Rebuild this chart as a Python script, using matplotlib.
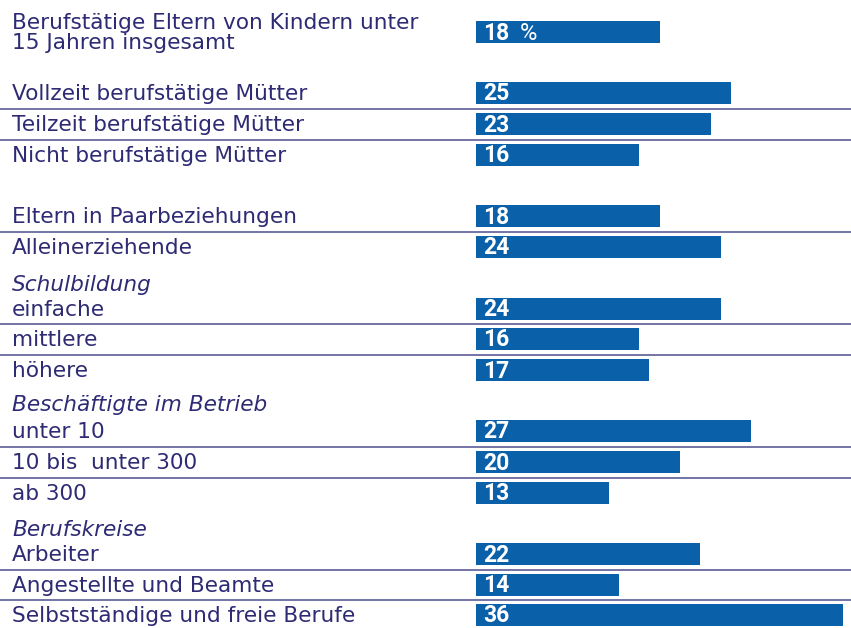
import matplotlib.pyplot as plt
from matplotlib.transforms import blended_transform_factory, offset_copy

# --- data -----------------------------------------------------------------
labels = [
    "Berufstätige Eltern von Kindern unter\n15 Jahren insgesamt",
    "Vollzeit berufstätige Mütter",
    "Teilzeit berufstätige Mütter",
    "Nicht berufstätige Mütter",
    "Eltern in Paarbeziehungen",
    "Alleinerziehende",
    "einfache",
    "mittlere",
    "höhere",
    "unter 10",
    "10 bis  unter 300",
    "ab 300",
    "Arbeiter",
    "Angestellte und Beamte",
    "Selbstständige und freie Berufe",
]
values = [18, 25, 23, 16, 18, 24, 24, 16, 17, 27, 20, 13, 22, 14, 36]
group_of = [0, 1, 1, 1, 2, 2, 3, 3, 3, 4, 4, 4, 5, 5, 5]
headers = {3: "Schulbildung", 4: "Beschäftigte im Betrieb", 5: "Berufskreise"}

# --- layout (pixel rows, figure is 851 x 628) ----------------------------
row_y = [32, 93, 124, 155, 216, 247, 309, 339, 370, 431, 462, 493, 554, 585, 615]
header_y = {3: 285, 4: 405, 5: 530}
BAR_X0 = 476      # pixel where bars start
PX_PER_UNIT = 10.2
W, H = 851, 628

TEXT = "#2e2b74"
BAR = "#0b60aa"
RULE = "#5c5c96"

fig = plt.figure(figsize=(W / 100, H / 100), dpi=100)
ax = fig.add_axes([0, 0, 1, 1])
ax.set_xlim(-BAR_X0 / PX_PER_UNIT, (W - BAR_X0) / PX_PER_UNIT)
ax.set_ylim(H, 0)
ax.axis("off")

tr = blended_transform_factory(ax.transAxes, ax.transData)
lab_font = dict(family=["DejaVu Sans"], fontsize=15.6, color=TEXT)
num_font = dict(family=["Roboto", "DejaVu Sans"], fontweight="bold",
                fontsize=16.5, color="white")

ax.barh(row_y, values, height=22, left=0, color=BAR)

for i, (y, lab, v) in enumerate(zip(row_y, labels, values)):
    ax.text(12 / W, y + 1, lab, transform=tr, ha="left", va="center",
            linespacing=0.95, **lab_font)
    ax.text(0.7, y + 1, str(v), ha="left", va="center", **num_font)
    if i == 0:
        # light percent sign after the first value
        ax.text(0.7, y + 1, "%", ha="left", va="center", color="white",
                family=["Roboto", "DejaVu Sans"], fontsize=17,
                transform=offset_copy(ax.transData, fig=fig, x=37, y=0,
                                      units="dots"))

for g, h in headers.items():
    ax.text(12 / W, header_y[g], h, transform=tr, ha="left", va="center",
            style="italic", **lab_font)

# thin rules between rows of the same group
for i in range(len(row_y) - 1):
    if group_of[i] == group_of[i + 1]:
        yl = (row_y[i] + row_y[i + 1]) / 2
        ax.axhline(yl, color=RULE, lw=1.2)

plt.savefig("out.png", dpi=100)
